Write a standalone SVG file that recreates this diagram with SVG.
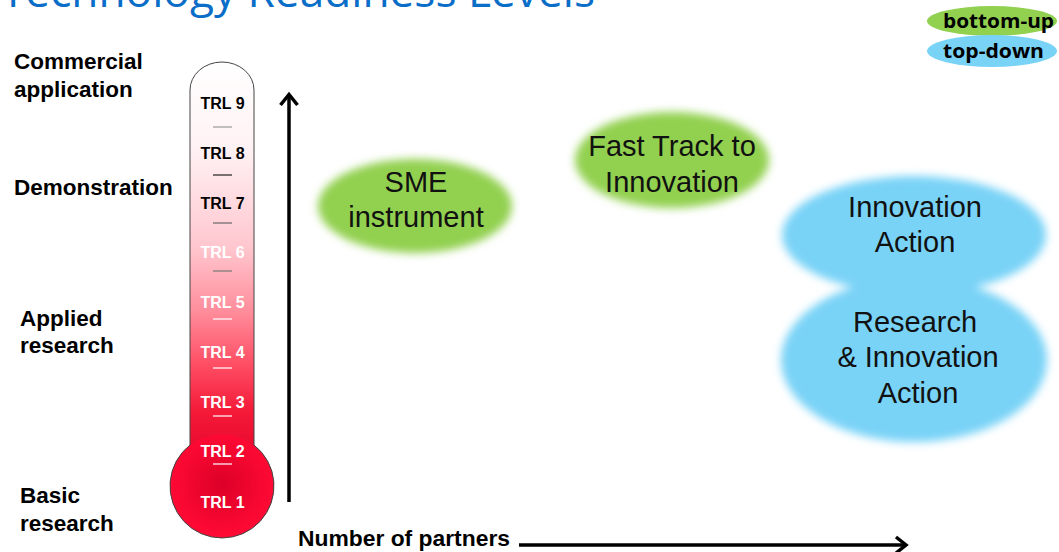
<svg xmlns="http://www.w3.org/2000/svg" width="1059" height="552" viewBox="0 0 1059 552">
<style>
.lbl{font-family:"Liberation Sans",Arial,sans-serif;font-weight:bold;font-size:22.5px;fill:#000}
.trl{font-family:"Liberation Sans",Arial,sans-serif;font-weight:bold;font-size:16px;text-anchor:middle}
.dk{fill:#000}
.wt{fill:#fff}
.bub{font-family:"Liberation Sans",Arial,sans-serif;font-size:29px;fill:#111;text-anchor:middle}
.leg{font-family:"Open Sans","DejaVu Sans",sans-serif;font-weight:bold;font-size:20px;fill:#000}
.green{fill:#92D050}
.blue{fill:#79D3F7}
.sep{stroke-width:1.2}
.axis{stroke:#000;stroke-width:3.5;fill:none}
</style>
<defs>
<linearGradient id="tube" gradientUnits="userSpaceOnUse" x1="0" y1="62" x2="0" y2="450">
<stop offset="0" stop-color="#FFFFFF"/>
<stop offset="0.22" stop-color="#FFF2F4"/>
<stop offset="0.48" stop-color="#FFC6CE"/>
<stop offset="0.64" stop-color="#FF8E9C"/>
<stop offset="0.77" stop-color="#FF5268"/>
<stop offset="0.9" stop-color="#F41A38"/>
<stop offset="1" stop-color="#EA0A2E"/>
</linearGradient>
<radialGradient id="bulb" cx="222" cy="484" r="52" gradientUnits="userSpaceOnUse">
<stop offset="0" stop-color="#DC0028"/>
<stop offset="1" stop-color="#FF0A34"/>
</radialGradient>
<filter id="soft" x="-20%" y="-30%" width="140%" height="160%">
<feGaussianBlur stdDeviation="4"/>
</filter>
</defs>
<rect width="1059" height="552" fill="#fff"/>

<text id="title" x="1" y="7" font-family="'Open Sans','DejaVu Sans',sans-serif" font-size="44" fill="#0A6EC8" textLength="594" lengthAdjust="spacingAndGlyphs">Technology Readiness Levels</text>

<g id="legend">
<ellipse class="green" cx="992" cy="21" rx="65" ry="15"/>
<ellipse class="blue" cx="992" cy="51" rx="65" ry="16"/>
<text class="leg" x="943" y="28" textLength="111" lengthAdjust="spacingAndGlyphs">bottom-up</text>
<text class="leg" x="943" y="58" textLength="101" lengthAdjust="spacingAndGlyphs">top-down</text>
</g>

<g id="levels">
<text class="lbl" x="14" y="69">Commercial</text>
<text class="lbl" x="14" y="97">application</text>
<text class="lbl" x="14" y="195">Demonstration</text>
<text class="lbl" x="20" y="326">Applied</text>
<text class="lbl" x="20" y="353">research</text>
<text class="lbl" x="20" y="503">Basic</text>
<text class="lbl" x="20" y="531">research</text>
</g>

<g id="thermometer">
<path d="M190,90 A32,28 0 0 1 254,90 L254,445 A52,52 0 1 1 190,445 Z" fill="url(#tube)"/>
<circle cx="222" cy="486" r="51.5" fill="url(#bulb)"/>
<path d="M190,90 A32,28 0 0 1 254,90 L254,445 A52,52 0 1 1 190,445 Z" fill="none" stroke="#444" stroke-width="1"/>
<g class="sep">
<line x1="213" y1="127" x2="232" y2="127" stroke="#999"/>
<line x1="213" y1="175" x2="232" y2="175" stroke="#222"/>
<line x1="213" y1="223" x2="232" y2="223" stroke="#666"/>
<line x1="213" y1="271" x2="232" y2="271" stroke="#777"/>
<line x1="213" y1="319" x2="232" y2="319" stroke="#fff"/>
<line x1="213" y1="368" x2="232" y2="368" stroke="#fff"/>
<line x1="213" y1="416" x2="232" y2="416" stroke="#fff"/>
<line x1="213" y1="464" x2="232" y2="464" stroke="#fff"/>
</g>
<text class="trl dk" x="222.5" y="109">TRL 9</text>
<text class="trl dk" x="222.5" y="159">TRL 8</text>
<text class="trl dk" x="222.5" y="209">TRL 7</text>
<text class="trl wt" x="222.5" y="258">TRL 6</text>
<text class="trl wt" x="222.5" y="308">TRL 5</text>
<text class="trl wt" x="222.5" y="358">TRL 4</text>
<text class="trl wt" x="222.5" y="408">TRL 3</text>
<text class="trl wt" x="222.5" y="457">TRL 2</text>
<text class="trl wt" x="222.5" y="508">TRL 1</text>
</g>

<g id="connectors">
<line class="axis" x1="289" y1="502" x2="289" y2="96"/>
<polyline class="axis" points="280.5,105 289,94.5 297.5,105" stroke-linejoin="miter"/>
<text class="lbl" x="298" y="546" textLength="212" lengthAdjust="spacingAndGlyphs">Number of partners</text>
<line class="axis" x1="519" y1="545" x2="904" y2="545"/>
<polyline class="axis" points="896,537 906,545 896,553" stroke-linejoin="miter"/>
</g>

<g id="sme">
<ellipse class="green" cx="415" cy="206" rx="97" ry="47" filter="url(#soft)"/>
<text class="bub" x="416" y="192">SME</text>
<text class="bub" x="416" y="227">instrument</text>
</g>

<g id="fasttrack">
<ellipse class="green" cx="672" cy="160" rx="97" ry="48" filter="url(#soft)"/>
<text class="bub" x="672" y="156">Fast Track to</text>
<text class="bub" x="672" y="192">Innovation</text>
</g>

<g id="blue-shapes" filter="url(#soft)">
<ellipse class="blue" cx="914" cy="235" rx="132" ry="59"/>
<ellipse class="blue" cx="914" cy="360" rx="133" ry="82"/>
</g>

<g id="ia">
<text class="bub" x="915" y="217">Innovation</text>
<text class="bub" x="915" y="252">Action</text>
</g>

<g id="ria">
<text class="bub" x="915" y="332">Research</text>
<text class="bub" x="918" y="367">&amp; Innovation</text>
<text class="bub" x="918" y="403">Action</text>
</g>
</svg>
